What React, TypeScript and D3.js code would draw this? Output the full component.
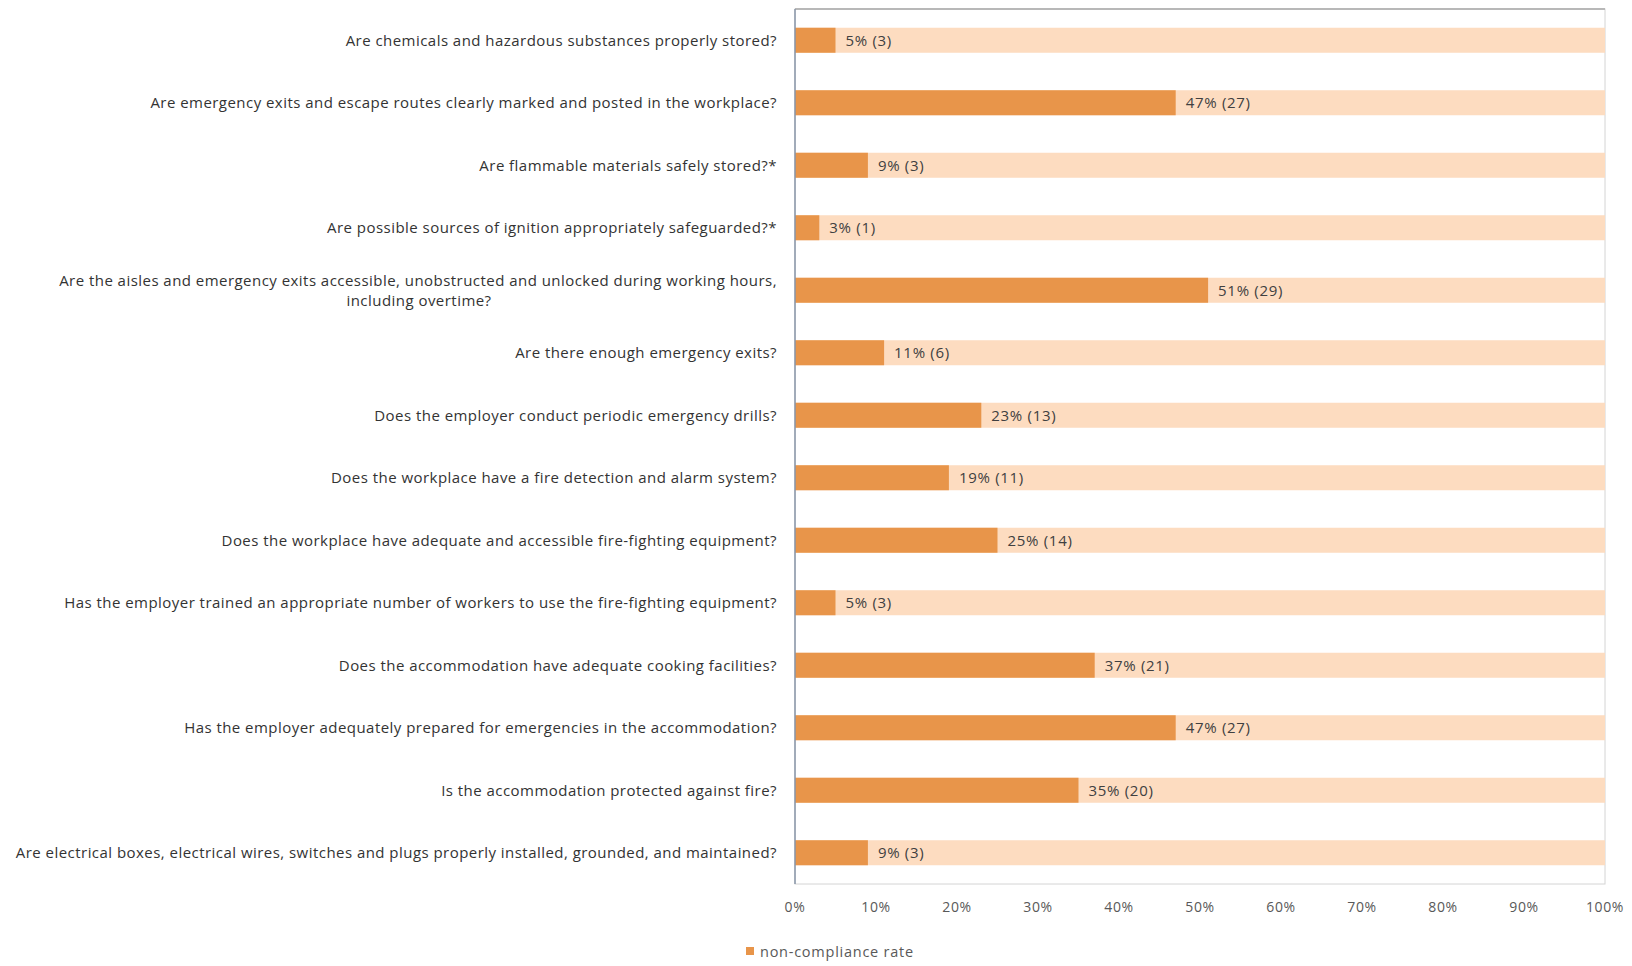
import React from "react";
import * as d3 from "d3";

const questions: string[][] = [
  ["Are chemicals and hazardous substances properly stored?"],
  ["Are emergency exits and escape routes clearly marked and posted in the workplace?"],
  ["Are flammable materials safely stored?*"],
  ["Are possible sources of ignition appropriately safeguarded?*"],
  ["Are the aisles and emergency exits accessible, unobstructed and unlocked during working hours,", "including overtime?"],
  ["Are there enough emergency exits?"],
  ["Does the employer conduct periodic emergency drills?"],
  ["Does the workplace have a fire detection and alarm system?"],
  ["Does the workplace have adequate and accessible fire-fighting equipment?"],
  ["Has the employer trained an appropriate number of workers to use the fire-fighting equipment?"],
  ["Does the accommodation have adequate cooking facilities?"],
  ["Has the employer adequately prepared for emergencies in the accommodation?"],
  ["Is the accommodation protected against fire?"],
  ["Are electrical boxes, electrical wires, switches and plugs properly installed, grounded, and maintained?"],
];
const rates: number[] = [5, 47, 9, 3, 51, 11, 23, 19, 25, 5, 37, 47, 35, 9];
const counts: number[] = [3, 27, 3, 1, 29, 6, 13, 11, 14, 3, 21, 27, 20, 3];
const xTicks: number[] = [0, 10, 20, 30, 40, 50, 60, 70, 80, 90, 100];
const legendLabel = "non-compliance rate";

const W = 1632;
const H = 966;
const left = 795;
const right = 1605;
const top = 9;
const bottom = 884;
const font = "'Open Sans', 'Liberation Sans', sans-serif";
const qSize = 15;
const qSpacing = 0.46;

export default function App() {
  const x = d3.scaleLinear().domain([0, 100]).range([left, right]);
  const idx = questions.map((_, i) => String(i));
  const y = d3.scaleBand().domain(idx).range([top, bottom]).paddingInner(0.6).paddingOuter(0.3);
  const bh = y.bandwidth();
  return (
    <svg width={W} height={H} style={{ position: "absolute", left: 0, top: 0 }}>
      <rect x={0} y={0} width={W} height={H} fill="#ffffff" />
      <rect x={left} y={top} width={right - left} height={bottom - top} fill="none" stroke="#d4d4d4" strokeWidth={1} />
      <line x1={left} x2={right} y1={top} y2={top} stroke="#b8b8b8" strokeWidth={2} />
      {questions.map((q, i) => {
        const yy = y(String(i))!;
        const cy = yy + bh / 2;
        return (
          <g key={i}>
            <rect x={x(0)} y={yy} width={x(100) - x(0)} height={bh} fill="#fddcc0" />
            <rect x={x(0)} y={yy} width={x(rates[i]) - x(0)} height={bh} fill="#e8954a" />
            <text x={x(rates[i]) + 10} y={cy} dy="0.35em" fontFamily={font} fontSize={15} letterSpacing={0.7} fill="#404040">
              {`${rates[i]}% (${counts[i]})`}
            </text>
            {q.length === 1 ? (
              <text x={left - 18} y={cy} dy="0.35em" textAnchor="end" fontFamily={font} fontSize={qSize} letterSpacing={qSpacing} fill="#333333">
                {q[0]}
              </text>
            ) : (
              <g>
                <text x={left - 18} y={cy - 10} dy="0.35em" textAnchor="end" fontFamily={font} fontSize={qSize} letterSpacing={qSpacing} fill="#333333">
                  {q[0]}
                </text>
                <text x={419} y={cy + 10} dy="0.35em" textAnchor="middle" fontFamily={font} fontSize={qSize} letterSpacing={qSpacing} fill="#333333">
                  {q[1]}
                </text>
              </g>
            )}
          </g>
        );
      })}
      <line x1={left} x2={left} y1={top} y2={bottom} stroke="#8896a8" strokeWidth={1.5} />
      {xTicks.map((t) => (
        <text key={t} x={x(t)} y={907} dy="0.35em" textAnchor="middle" fontFamily={font} fontSize={14} letterSpacing={0.6} fill="#595959">
          {`${t}%`}
        </text>
      ))}
      <rect x={746} y={947} width={8} height={8} fill="#e8954a" />
      <text x={760} y={953} dy="0.3em" fontFamily={font} fontSize={14.5} letterSpacing={0.75} fill="#595959">
        {legendLabel}
      </text>
    </svg>
  );
}
